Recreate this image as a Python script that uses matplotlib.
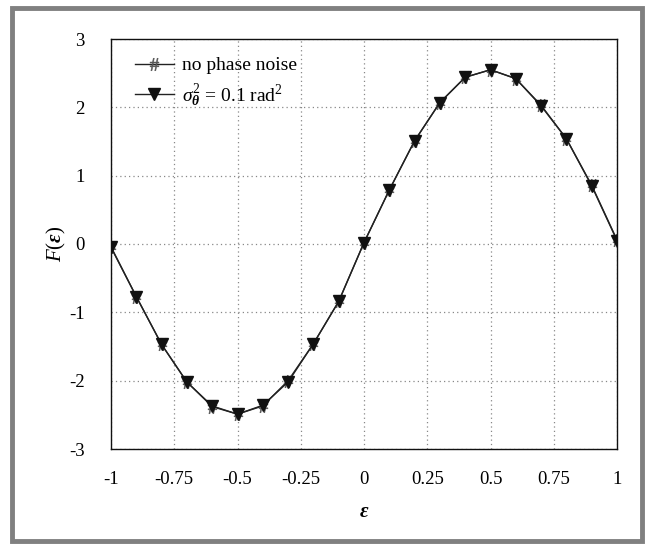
import numpy as np
import matplotlib
matplotlib.use('Agg')
import matplotlib.pyplot as plt
from matplotlib.patches import Rectangle

# fonts: Times-like serif everywhere, custom mathtext so greek follows it
plt.rcParams['font.family'] = ['Liberation Serif', 'DejaVu Serif']
plt.rcParams['mathtext.fontset'] = 'custom'
plt.rcParams['mathtext.rm'] = 'Liberation Serif'
plt.rcParams['mathtext.it'] = 'Liberation Serif:italic'
plt.rcParams['mathtext.bf'] = 'Liberation Serif:italic:bold'

eps = [-1.0, -0.9, -0.8, -0.7, -0.6, -0.5, -0.4, -0.3, -0.2, -0.1, 0.0,
       0.1, 0.2, 0.3, 0.4, 0.5, 0.6, 0.7, 0.8, 0.9, 1.0]
F_clean = [-0.04, -0.77, -1.47, -2.02, -2.38, -2.49, -2.37, -2.00, -1.46, -0.84, 0.02,
           0.79, 1.51, 2.07, 2.44, 2.55, 2.42, 2.03, 1.54, 0.86, 0.06]
F_noise = [-0.05, -0.77, -1.47, -2.02, -2.37, -2.49, -2.36, -2.02, -1.46, -0.84, 0.02,
           0.79, 1.51, 2.07, 2.44, 2.55, 2.42, 2.02, 1.54, 0.85, 0.05]

xticks = [-1, -0.75, -0.5, -0.25, 0, 0.25, 0.5, 0.75, 1]
xticklabels = ['-1', '-0.75', '-0.5', '-0.25', '0', '0.25', '0.5', '0.75', '1']
yticks = [-3, -2, -1, 0, 1, 2, 3]
yticklabels = ['-3', '-2', '-1', '0', '1', '2', '3']

labels = ['no phase noise', r'$\sigma_{\mathbf{\theta}}^{2}$ = 0.1 rad$^{2}$']

# –––– figure ––––
fig = plt.figure(figsize=(6.46, 5.45), dpi=100)
ax = fig.add_axes([111/646, 1-449/545, 506/646, 410/545])

ax.plot(eps, F_clean, color='#222222', lw=1.0, marker=r'$\#$', markersize=9,
        markeredgewidth=0.4, markerfacecolor='#555555', markeredgecolor='#555555',
        label=labels[0])
ax.plot(eps, F_noise, color='#222222', lw=1.0, marker='v', markersize=8,
        markerfacecolor='#111111', markeredgecolor='#111111', label=labels[1])

ax.set_xlim(-1, 1)
ax.set_ylim(-3, 3)
ax.set_xticks(xticks)
ax.set_xticklabels(xticklabels)
ax.set_yticks(yticks)
ax.set_yticklabels(yticklabels)
ax.tick_params(axis='both', length=0, labelsize=13.5)
ax.tick_params(axis='x', pad=16)
ax.tick_params(axis='y', pad=19)

ax.grid(True, color='#888888', linestyle=(0, (1, 2.5)), lw=0.9)
for s in ax.spines.values():
    s.set_linewidth(1.0)
    s.set_color('#111111')

ax.set_xlabel('ε', fontsize=15, fontweight='bold', style='italic', labelpad=10)
ax.set_ylabel(r'$F(\mathbf{\varepsilon})$', fontsize=15, labelpad=1)

leg = ax.legend(loc='upper left', frameon=False, fontsize=14, handlelength=2.0,
                handletextpad=0.45, labelspacing=0.4,
                bbox_to_anchor=(0.02, 0.99), borderaxespad=0.3)

# gray frame round the whole picture
fig.patches.append(Rectangle((12/646, 1-541/545), 630/646, 533/545, fill=False,
                             edgecolor='#808080', lw=3.5, transform=fig.transFigure))

fig.savefig('out.png', dpi=100)
